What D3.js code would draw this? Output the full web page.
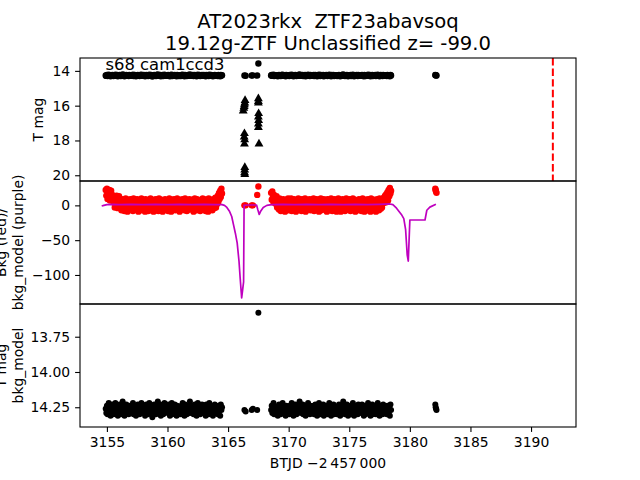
<!DOCTYPE html>
<html><head><meta charset="utf-8">
<script src="https://cdn.jsdelivr.net/npm/d3@7"></script>
<style>body{margin:0;background:#fff} text{font-family:"DejaVu Sans",sans-serif;fill:#000;white-space:pre}</style>
</head><body><svg id="c" width="640" height="480"></svg>
<script>
const titleLines = ["AT2023rkx  ZTF23abavsoq", "19.12g-ZTF Unclassified z= -99.0"];
const sectorLabel = "s68 cam1ccd3";
const xLabel = "BTJD \u22122\u2009457\u2009000";
const yLabels = [["T mag"], ["Bkg (red)/", "bkg_model (purple)"], ["T mag", "bkg_model"]];
const xTicks = [3155,3160,3165,3170,3175,3180,3185,3190];
const y1Ticks = [14,16,18,20];
const y2Ticks = [0,-50,-100];
const y3Ticks = [13.75,14.00,14.25];
const refTime = 3191.8;

const timeA = [3154.9,3154.95,
3155,3155.05,3155.1,3155.15,3155.2,3155.25,3155.3,3155.35,3155.4,3155.45,3155.5,3155.55,3155.6,3155.65,3155.7,3155.75,3155.8,3155.85,3155.9,3155.95,
3156,3156.05,3156.1,3156.15,3156.2,3156.25,3156.3,3156.35,3156.4,3156.45,3156.5,3156.55,3156.6,3156.65,3156.7,3156.75,3156.8,3156.85,3156.9,3156.95,
3157,3157.05,3157.1,3157.15,3157.2,3157.25,3157.3,3157.35,3157.4,3157.45,3157.5,3157.55,3157.6,3157.65,3157.7,3157.75,3157.8,3157.85,3157.9,3157.95,
3158,3158.05,3158.1,3158.15,3158.2,3158.25,3158.3,3158.35,3158.4,3158.45,3158.5,3158.55,3158.6,3158.65,3158.7,3158.75,3158.8,3158.85,3158.9,3158.95,
3159,3159.05,3159.1,3159.15,3159.2,3159.25,3159.3,3159.35,3159.4,3159.45,3159.5,3159.55,3159.6,3159.65,3159.7,3159.75,3159.8,3159.85,3159.9,3159.95,
3160,3160.05,3160.1,3160.15,3160.2,3160.25,3160.3,3160.35,3160.4,3160.45,3160.5,3160.55,3160.6,3160.65,3160.7,3160.75,3160.8,3160.85,3160.9,3160.95,
3161,3161.05,3161.1,3161.15,3161.2,3161.25,3161.3,3161.35,3161.4,3161.45,3161.5,3161.55,3161.6,3161.65,3161.7,3161.75,3161.8,3161.85,3161.9,3161.95,
3162,3162.05,3162.1,3162.15,3162.2,3162.25,3162.3,3162.35,3162.4,3162.45,3162.5,3162.55,3162.6,3162.65,3162.7,3162.75,3162.8,3162.85,3162.9,3162.95,
3163,3163.05,3163.1,3163.15,3163.2,3163.25,3163.3,3163.35,3163.4,3163.45,3163.5,3163.55,3163.6,3163.65,3163.7,3163.75,3163.8,3163.85,3163.9,3163.95,
3164,3164.05,3164.1,3164.15,3164.2,3164.25,3164.3,3164.35,3164.4,3164.45,3164.5];
const magA = [14.26,14.29,
14.24,14.30,14.27,14.22,14.29,14.26,14.31,14.25,14.28,14.23,14.27,14.30,14.25,14.28,14.22,14.29,14.26,14.24,14.31,14.27,
14.28,14.23,14.26,14.30,14.25,14.29,14.21,14.27,14.24,14.31,14.26,14.28,14.23,14.29,14.25,14.27,14.30,14.24,14.28,14.26,
14.25,14.29,14.27,14.22,14.30,14.26,14.24,14.28,14.31,14.25,14.27,14.23,14.29,14.26,14.30,14.24,14.28,14.22,14.27,14.25,
14.29,14.24,14.27,14.31,14.26,14.23,14.28,14.25,14.30,14.27,14.22,14.29,14.26,14.24,14.28,14.32,14.25,14.27,14.23,14.29,
14.26,14.30,14.24,14.28,14.21,14.27,14.25,14.29,14.23,14.31,14.26,14.28,14.24,14.30,14.27,14.22,14.29,14.25,14.28,14.26,
14.28,14.23,14.29,14.26,14.31,14.24,14.27,14.22,14.30,14.25,14.28,14.26,14.23,14.29,14.27,14.31,14.24,14.28,14.25,14.30,
14.25,14.27,14.30,14.24,14.28,14.22,14.29,14.26,14.31,14.23,14.27,14.25,14.30,14.28,14.24,14.26,14.29,14.21,14.27,14.25,
14.29,14.26,14.24,14.30,14.27,14.23,14.28,14.25,14.31,14.26,14.22,14.29,14.27,14.24,14.30,14.26,14.28,14.23,14.27,14.29,
14.24,14.28,14.26,14.31,14.23,14.27,14.29,14.25,14.30,14.22,14.28,14.26,14.24,14.29,14.27,14.31,14.25,14.28,14.23,14.26,
14.29,14.25,14.27,14.30,14.24,14.28,14.26,14.31,14.23,14.27,14.25];
const bkgA = [22,14,
24,9,19,12,22,7,17,21,10,15,13,4,12,-3,9,1,14,6,-4,10,
13,-2,8,5,-7,9,1,-5,7,-8,3,10,-3,6,-9,4,8,-6,0,9,
-4,7,2,-8,10,-1,5,-6,8,-3,9,1,-9,6,-2,4,-7,10,3,-5,
8,-6,3,-9,9,0,-4,7,-8,5,2,-7,10,-2,6,-5,4,-9,8,1,
-3,9,-7,5,1,-8,10,-2,6,-5,8,0,-9,4,7,-4,9,-6,2,-1,
6,-8,3,10,-4,7,-9,1,8,-2,-6,9,4,-7,5,-3,10,-5,2,7,
-9,4,8,-5,1,9,-3,6,-7,10,-1,3,-8,7,-4,5,9,-6,0,-2,
8,-5,2,-9,6,10,-3,4,-7,9,-1,7,-6,3,-8,5,1,-4,10,-2,
-6,9,2,-8,5,-3,7,-9,10,1,-5,8,-2,6,-7,4,9,-4,3,11,
-3,8,2,14,5,18,9,21,12,24,17];

const timeMid = [3166.35,3166.45,3166.95,3167.05,3167.4,3167.5];
const magMid = [14.27,14.28,14.27,14.26,14.27,13.58];
const bkgMid = [0,0,0,0,15,27];

const timeC = [3168.55,3168.6,3168.65,3168.7,3168.75,3168.8,3168.85,3168.9,3168.95,
3169,3169.05,3169.1,3169.15,3169.2,3169.25,3169.3,3169.35,3169.4,3169.45,3169.5,3169.55,3169.6,3169.65,3169.7,3169.75,3169.8,3169.85,3169.9,3169.95,
3170,3170.05,3170.1,3170.15,3170.2,3170.25,3170.3,3170.35,3170.4,3170.45,3170.5,3170.55,3170.6,3170.65,3170.7,3170.75,3170.8,3170.85,3170.9,3170.95,
3171,3171.05,3171.1,3171.15,3171.2,3171.25,3171.3,3171.35,3171.4,3171.45,3171.5,3171.55,3171.6,3171.65,3171.7,3171.75,3171.8,3171.85,3171.9,3171.95,
3172,3172.05,3172.1,3172.15,3172.2,3172.25,3172.3,3172.35,3172.4,3172.45,3172.5,3172.55,3172.6,3172.65,3172.7,3172.75,3172.8,3172.85,3172.9,3172.95,
3173,3173.05,3173.1,3173.15,3173.2,3173.25,3173.3,3173.35,3173.4,3173.45,3173.5,3173.55,3173.6,3173.65,3173.7,3173.75,3173.8,3173.85,3173.9,3173.95,
3174,3174.05,3174.1,3174.15,3174.2,3174.25,3174.3,3174.35,3174.4,3174.45,3174.5,3174.55,3174.6,3174.65,3174.7,3174.75,3174.8,3174.85,3174.9,3174.95,
3175,3175.05,3175.1,3175.15,3175.2,3175.25,3175.3,3175.35,3175.4,3175.45,3175.5,3175.55,3175.6,3175.65,3175.7,3175.75,3175.8,3175.85,3175.9,3175.95,
3176,3176.05,3176.1,3176.15,3176.2,3176.25,3176.3,3176.35,3176.4,3176.45,3176.5,3176.55,3176.6,3176.65,3176.7,3176.75,3176.8,3176.85,3176.9,3176.95,
3177,3177.05,3177.1,3177.15,3177.2,3177.25,3177.3,3177.35,3177.4,3177.45,3177.5,3177.55,3177.6,3177.65,3177.7,3177.75,3177.8,3177.85,3177.9,3177.95,
3178,3178.05,3178.1,3178.15,3178.2,3178.25,3178.3,3178.35,3178.4,3178.45];
const magC = [14.27,14.24,14.29,14.26,14.22,14.30,14.25,14.28,14.26,
14.29,14.25,14.31,14.27,14.23,14.28,14.26,14.30,14.24,14.27,14.22,14.29,14.25,14.28,14.26,14.31,14.24,14.27,14.29,14.25,
14.26,14.30,14.24,14.28,14.27,14.22,14.29,14.25,14.31,14.26,14.28,14.23,14.27,14.30,14.25,14.29,14.24,14.27,14.21,14.28,
14.25,14.29,14.27,14.23,14.30,14.26,14.28,14.24,14.31,14.27,14.25,14.29,14.22,14.28,14.26,14.30,14.24,14.27,14.29,14.25,
14.28,14.24,14.30,14.26,14.23,14.29,14.27,14.31,14.25,14.28,14.22,14.27,14.30,14.24,14.29,14.26,14.28,14.23,14.31,14.27,
14.26,14.29,14.24,14.28,14.30,14.25,14.27,14.22,14.29,14.26,14.31,14.24,14.28,14.27,14.23,14.30,14.25,14.29,14.26,14.28,
14.30,14.25,14.28,14.23,14.27,14.31,14.26,14.29,14.24,14.27,14.21,14.28,14.25,14.30,14.26,14.29,14.23,14.27,14.31,14.25,
14.27,14.29,14.24,14.30,14.26,14.28,14.22,14.27,14.31,14.25,14.29,14.26,14.24,14.28,14.30,14.23,14.27,14.29,14.25,14.26,
14.28,14.23,14.29,14.26,14.31,14.24,14.27,14.30,14.25,14.28,14.26,14.22,14.29,14.27,14.24,14.31,14.26,14.28,14.23,14.30,
14.25,14.29,14.27,14.24,14.30,14.26,14.28,14.22,14.29,14.25,14.31,14.27,14.24,14.28,14.26,14.30,14.23,14.27,14.29,14.25,
14.28,14.26,14.30,14.24,14.27,14.29,14.25,14.31,14.23,14.27];
const bkgC = [18,8,20,12,4,15,7,11,2,
13,-3,9,5,-6,10,1,-8,7,-2,4,9,-5,6,-9,3,8,-4,1,10,
-7,5,8,-3,10,-8,2,6,-5,9,-1,4,-9,7,3,-6,10,0,-4,8,
2,-8,9,-3,6,1,-6,10,-9,4,7,-2,8,-5,3,9,-7,5,-1,6,
-4,10,-8,3,7,-2,9,-6,1,8,-9,5,-3,10,-7,2,6,-5,9,0,
7,-6,4,-9,9,1,-3,8,-7,5,10,-1,-8,6,3,-5,9,-2,7,-9,
4,-4,10,-7,2,8,-9,6,-2,9,-5,3,7,-8,1,10,-3,5,-6,8,
-1,9,-8,4,6,-4,10,-6,2,8,-9,5,-2,7,-7,3,9,-5,0,6,
-8,5,10,-3,7,-9,1,8,-5,4,-7,9,2,-2,6,-9,10,-4,3,7,
-6,8,-2,6,-9,3,9,-4,7,-7,10,1,-5,8,-3,5,3,11,6,14,
4,16,9,19,7,22,13,25,17,21];

const timeD = [3182.1,3182.13,3182.16,3182.2];
const magD = [14.23,14.25,14.26,14.27];
const bkgD = [24,22,20,18];

const limTime = [3166.4,3166.38,3166.35,3166.33,3166.3,3166.25,3166.35,3166.33,3166.37,3166.35,3166.38,3166.37,3166.36,3166.38,
3167.5,3167.5,3167.5,3167.52,3167.5,3167.52,3167.5,3167.5,3167.55];
const limMag = [15.7,15.85,15.95,16.05,16.15,16.3,17.6,17.8,17.95,18.2,19.55,19.7,19.85,19.95,
15.6,15.75,15.85,16.45,16.65,16.85,17.05,17.25,18.2];

const modelTime = [3154.57,3154.75,3155,3155.5,3156,3157,3158,3159,3160,3161,3162,3163,3164,3164.5,3164.7,3164.9,3165.1,3165.3,3165.45,3165.6,3165.75,3165.9,3166.0,3166.12,3166.28,3166.32,3166.6,3167.0,3167.35,3167.45,3167.57,3167.7,3167.9,3168.2,3168.6,3169.5,3170.5,3171.5,3172.5,3173.5,3174.5,3175.5,3176.5,3177.5,3178.35,3178.6,3178.9,3179.3,3179.5,3179.65,3179.78,3179.87,3180.0,3181.25,3181.4,3181.65,3182.15];
const modelBkg = [-1,0,1,1.5,1,1.5,1,1.5,1,1.5,1,1.5,1,1,0,-3,-8,-16,-28,-40,-54,-80,-105,-133,-110,0,0.5,0.5,0.5,-6,-13,-8,-3,0,1,1.5,1,1.5,1,1.5,1,1.5,1,1.5,2,1,-4,-13,-19,-35,-71,-80,-21,-21,-7,-2.5,1.5];

// ---- assemble ----
const time = [].concat(timeA, timeMid, timeC, timeD);
const tmag = [].concat(magA, magMid, magC, magD);
const bkg = [].concat(bkgA, bkgMid, bkgC, bkgD);
const pts = d3.range(time.length).filter(i => tmag[i] !== undefined && bkg[i] !== undefined)
  .map(i => ({t: time[i], m: tmag[i], b: bkg[i]}));
const lims = limTime.map((t, i) => ({t, m: limMag[i]}));
const model = modelTime.map((t, i) => ({t, v: modelBkg[i]}));

const svg = d3.select("#c");
const L = 80, R = 576;
const panels = [[58,181],[181,304],[304,427]];
const x = d3.scaleLinear().domain([3152.78, 3193.71]).range([L, R]);
const y1 = d3.scaleLinear().domain([13.26, 20.33]).range(panels[0]);
const y2 = d3.scaleLinear().domain([35, -141.7]).range(panels[1]);
const y3 = d3.scaleLinear().domain([13.518, 14.39]).range(panels[2]);

const defs = svg.append("defs");
panels.forEach((p, i) => {
  defs.append("clipPath").attr("id", "clip" + i).append("rect")
    .attr("x", L).attr("y", p[0]).attr("width", R - L).attr("height", p[1] - p[0]);
});

// Panel 1
const g1 = svg.append("g").attr("clip-path", "url(#clip0)");
g1.selectAll("circle").data(pts).join("circle")
  .attr("cx", d => x(d.t)).attr("cy", d => y1(d.m)).attr("r", 3.2).attr("fill", "#000");
g1.selectAll("path.lim").data(lims).join("path").attr("class", "lim")
  .attr("d", d3.symbol(d3.symbolTriangle, 34))
  .attr("transform", d => `translate(${x(d.t)},${y1(d.m)})`).attr("fill", "#000");
g1.append("line").attr("x1", x(refTime)).attr("x2", x(refTime))
  .attr("y1", y1.range()[0]).attr("y2", y1.range()[1])
  .attr("stroke", "#ff0000").attr("stroke-width", 2).attr("stroke-dasharray", "7.4,3.2");

// Panel 2
const g2 = svg.append("g").attr("clip-path", "url(#clip1)");
g2.selectAll("circle").data(pts).join("circle")
  .attr("cx", d => x(d.t)).attr("cy", d => y2(d.b)).attr("r", 3.2).attr("fill", "#ff0000");
g2.append("path").datum(model)
  .attr("d", d3.line().x(d => x(d.t)).y(d => y2(d.v)))
  .attr("fill", "none").attr("stroke", "#bf00bf").attr("stroke-width", 1.7).attr("stroke-linejoin", "round");

// Panel 3
const g3 = svg.append("g").attr("clip-path", "url(#clip2)");
g3.selectAll("circle").data(pts).join("circle")
  .attr("cx", d => x(d.t)).attr("cy", d => y3(d.m)).attr("r", 3).attr("fill", "#000");

// Axes
function styleAxis(g) {
  g.select(".domain").remove();
  g.selectAll(".tick line").attr("stroke", "#000").attr("stroke-width", 1.1);
  g.selectAll(".tick text").attr("font-size", "13.9px").attr("font-family", "DejaVu Sans").attr("fill", "#000");
}
svg.append("g").attr("transform", `translate(${L},0)`)
  .call(d3.axisLeft(y1).tickValues(y1Ticks).tickSize(4.9).tickPadding(4.9).tickFormat(d3.format("d"))).call(styleAxis);
svg.append("g").attr("transform", `translate(${L},0)`)
  .call(d3.axisLeft(y2).tickValues(y2Ticks).tickSize(4.9).tickPadding(4.9).tickFormat(d3.format("d"))).call(styleAxis);
svg.append("g").attr("transform", `translate(${L},0)`)
  .call(d3.axisLeft(y3).tickValues(y3Ticks).tickSize(4.9).tickPadding(4.9).tickFormat(d3.format(".2f"))).call(styleAxis);
svg.append("g").attr("transform", `translate(0,${panels[2][1]})`)
  .call(d3.axisBottom(x).tickValues(xTicks).tickSize(4.9).tickPadding(5.5).tickFormat(d3.format("d"))).call(styleAxis);

// Frames
panels.forEach(p => {
  svg.append("rect").attr("x", L).attr("y", p[0]).attr("width", R - L).attr("height", p[1] - p[0])
    .attr("fill", "none").attr("stroke", "#000").attr("stroke-width", 1.1);
});

// Texts
svg.append("text").attr("x", 328).attr("y", 27.5).attr("text-anchor", "middle").attr("font-size", "19.6px").attr("xml:space", "preserve").text(titleLines[0]);
svg.append("text").attr("x", 328).attr("y", 49.5).attr("text-anchor", "middle").attr("font-size", "19.6px").text(titleLines[1]);
svg.append("text").attr("x", 105.5).attr("y", 70).attr("font-size", "16.4px").text(sectorLabel);
svg.append("text").attr("x", 328).attr("y", 468).attr("text-anchor", "middle").attr("font-size", "13.9px").text(xLabel);

const yLabelPos = [{xs: [43.3], yc: 119.5}, {xs: [6, 22.7], yc: 242.5}, {xs: [6, 22.7], yc: 365.5}];
yLabels.forEach((lines, i) => {
  lines.forEach((s, j) => {
    svg.append("text").attr("transform", `translate(${yLabelPos[i].xs[j]},${yLabelPos[i].yc}) rotate(-90)`)
      .attr("text-anchor", "middle").attr("font-size", "13.9px").text(s);
  });
});
</script></body></html>
